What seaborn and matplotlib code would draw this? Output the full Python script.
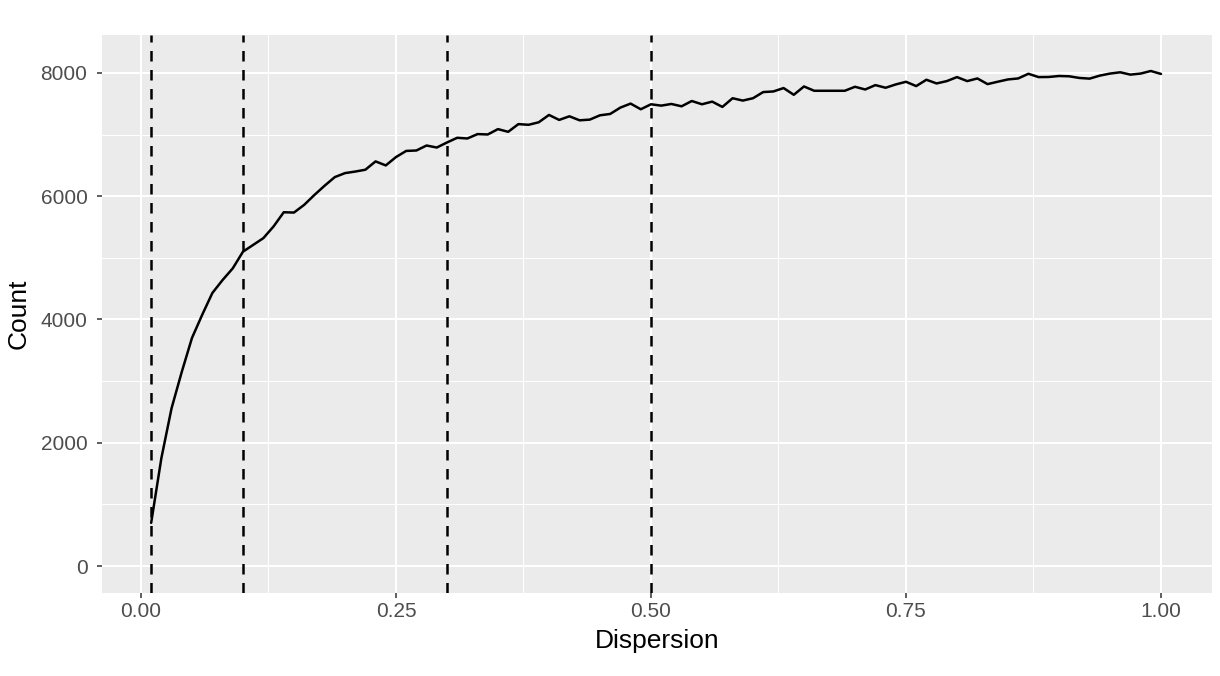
import numpy as np
import pandas as pd
import seaborn as sns
import matplotlib.pyplot as plt

# dispersion values (0.01 .. 1.00 step 0.01) and counts
dispersion = [round(0.01 * i, 2) for i in range(1, 101)]
count = [700, 1750, 2560, 3150, 3700, 4075, 4430, 4640, 4830, 5100,
         5210, 5320, 5510, 5740, 5735, 5860, 6020, 6170, 6310, 6375,
         6400, 6430, 6565, 6500, 6635, 6735, 6742, 6823, 6790, 6872,
         6948, 6937, 7008, 7002, 7089, 7045, 7170, 7159, 7200, 7319,
         7238, 7297, 7232, 7243, 7313, 7335, 7438, 7503, 7411, 7492,
         7470, 7497, 7459, 7545, 7492, 7535, 7449, 7590, 7552, 7590,
         7690, 7700, 7755, 7646, 7781, 7711, 7711, 7711, 7711, 7776,
         7732, 7803, 7760, 7814, 7857, 7787, 7890, 7830, 7868, 7933,
         7868, 7911, 7819, 7858, 7895, 7911, 7987, 7933, 7935, 7951,
         7946, 7919, 7908, 7957, 7990, 8011, 7973, 7990, 8032, 7984]
cutoffs = [0.01, 0.1, 0.3, 0.5]

df = pd.DataFrame({'Dispersion': dispersion, 'Count': count})

sns.set_theme(style="darkgrid", rc={
    "axes.facecolor": "#EBEBEB",
    "grid.color": "white",
    "axes.edgecolor": "#EBEBEB",
})
plt.rcParams['font.family'] = ['Liberation Sans', 'DejaVu Sans']

fig, ax = plt.subplots(figsize=(12.2, 6.76), dpi=100)
fig.subplots_adjust(left=102/1220, right=1212/1220, top=1-35/676, bottom=1-593/676)

sns.lineplot(data=df, x='Dispersion', y='Count', color='black', linewidth=1.8, ax=ax, zorder=3)
for c in cutoffs:
    ax.axvline(c, color='black', linewidth=1.8, linestyle=(0, (4.2, 3.4)), zorder=4)

ax.set_xlim(-0.0382, 1.05)
ax.set_ylim(-438, 8616)
ax.set_xticks([0, 0.25, 0.5, 0.75, 1.0])
ax.set_xticklabels(['0.00', '0.25', '0.50', '0.75', '1.00'])
ax.set_yticks([0, 2000, 4000, 6000, 8000])
ax.set_xticks([0.125, 0.375, 0.625, 0.875], minor=True)
ax.set_yticks([1000, 3000, 5000, 7000], minor=True)
ax.grid(which='major', color='white', linewidth=1.5)
ax.grid(which='minor', color='white', linewidth=0.75)
ax.tick_params(which='major', length=3.5, width=1.1, color='#333333', labelcolor='#4D4D4D',
               labelsize=15, bottom=True, left=True, pad=3)
ax.tick_params(axis='y', which='major', pad=7)
ax.tick_params(which='minor', length=0)
for s in ax.spines.values():
    s.set_visible(False)
ax.set_xlabel('Dispersion', fontsize=19, color='black', labelpad=6)
ax.set_ylabel('Count', fontsize=19, color='black', labelpad=7)

fig.savefig('out.png', dpi=100)
